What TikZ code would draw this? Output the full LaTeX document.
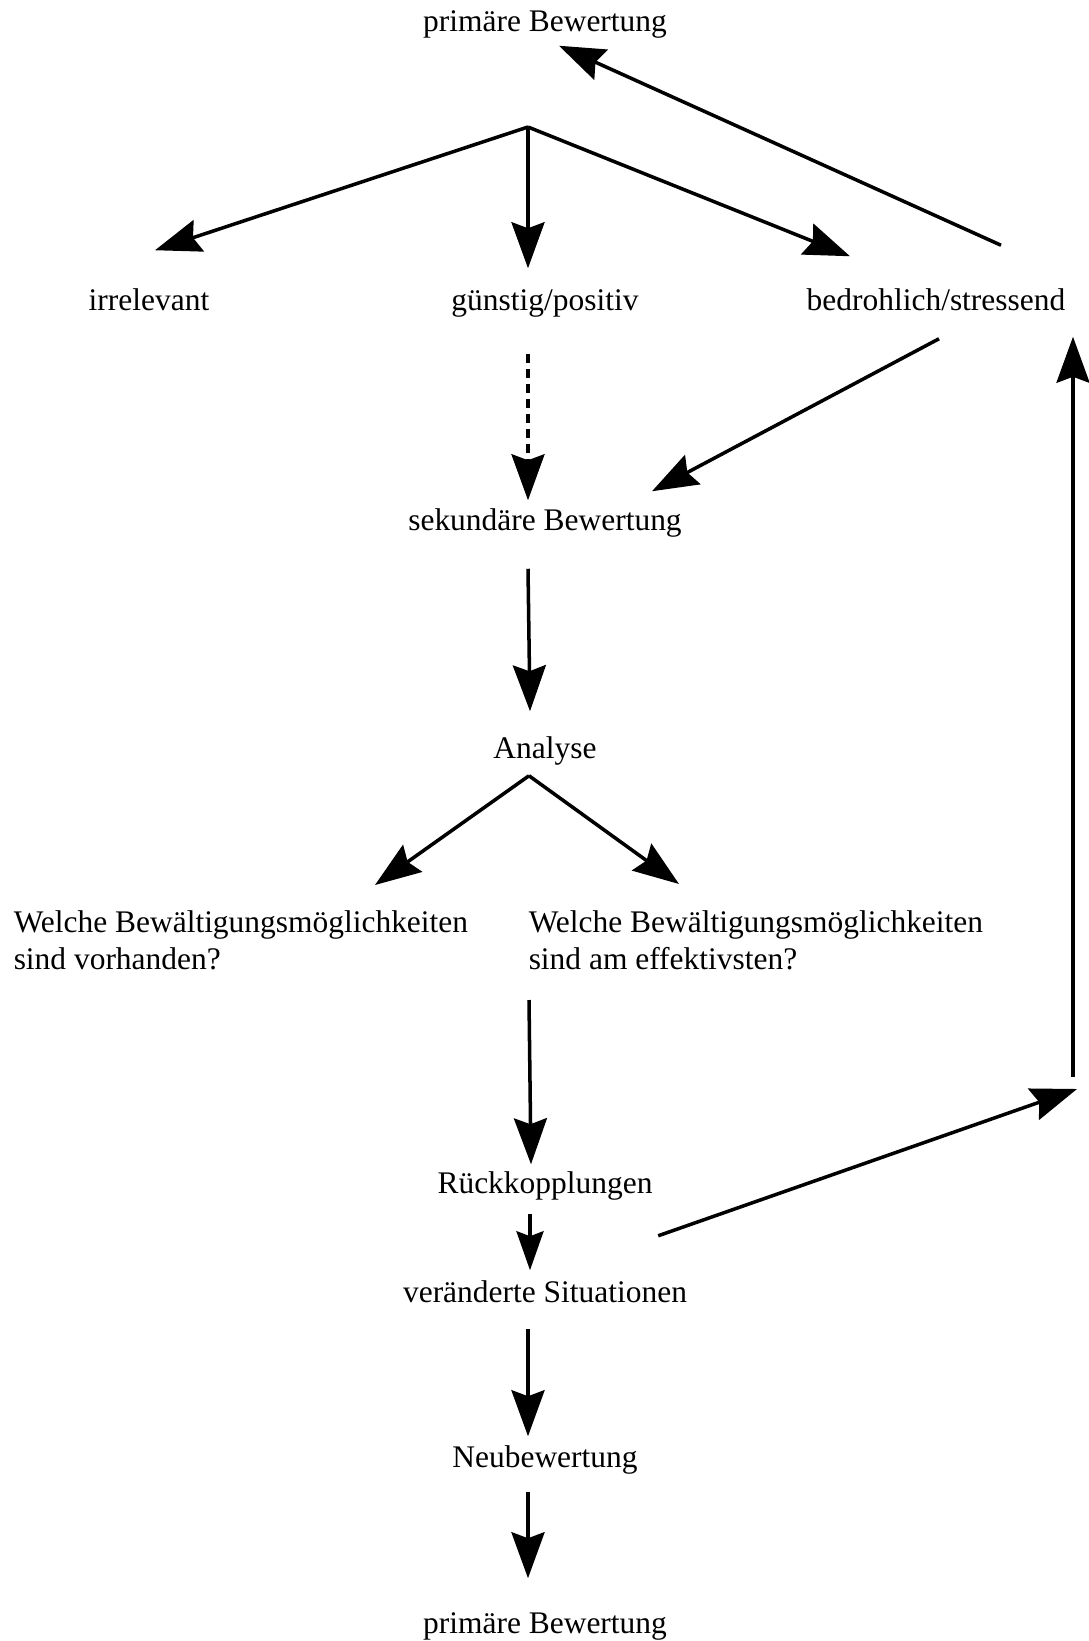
\documentclass[tikz,border=0pt]{standalone}
\usepackage{fontspec}
\setmainfont{Liberation Serif}
\usepackage{tikz}
\usetikzlibrary{calc}
\usetikzlibrary{arrows.meta}
\tikzstyle{every node}=[font=\fontsize{17.9}{21}\selectfont, inner sep=0pt]
\tikzstyle{txt}=[anchor=base, text height=0.45cm, text depth=0.14cm]
\tikzstyle{frage}=[anchor=north west, align=left]

\begin{document}
\begin{tikzpicture}[>={Stealth[length=0.92cm,width=0.66cm,inset=0.12cm]}, line width=2pt]
            \useasboundingbox (0,0) rectangle (21.76,-32.82);
            \def\dx{-0.34}

            \node[txt] (prim1) at (10.9,-0.64) {primäre Bewertung};
            \node[txt] (irr) at (2.98,-6.2) {irrelevant};
            \node[txt] (guen) at (10.9,-6.2) {günstig/positiv};
            \node[txt] (bedr) at (18.72,-6.2) {bedrohlich/stressend};
            \node[txt] (sek) at (10.9,-10.6) {sekundäre Bewertung};
            \node[txt] (ana) at (10.9,-15.16) {Analyse};
            \node[frage] (frage1) at (0.24,-18.18) {Welche Bewältigungsmöglichkeiten\\sind vorhanden?};
            \node[frage] (frage2) at (10.54,-18.18) {Welche Bewältigungsmöglichkeiten\\sind am effektivsten?};
            \node[txt] (rueck) at (10.9,-23.86) {Rückkopplungen};
            \node[txt] (ver) at (10.9,-26.04) {veränderte Situationen};
            \node[txt] (neu) at (10.9,-29.34) {Neubewertung};
            \node[txt] (prim2) at (10.9,-32.66) {primäre Bewertung};

            \coordinate (split1) at (10.56,-2.54) {};
            \coordinate (split2) at ([shift={(-0.32,-0.18)}]ana.south) {};
            \coordinate (turn) at (21.46,-21.54) {};

            \draw [->] (split1) -- ([shift={(0.12,0.71)}]irr.north);
            \draw [->] (split1) -- ([shift={(\dx,0.35)}]guen.north);
            \draw [->] (split1) -- ([shift={(-1.72,0.59)}]bedr.north);
            \draw [->] ([shift={(1.30,0.81)}]bedr.north) -- ([shift={(0.28,-0.10)}]prim1.south);

            \draw [->, dash pattern=on 0.18cm off 0.12cm] ([shift={(\dx,-0.70)}]guen.south) -- ([shift={(\dx,0.11)}]sek.north);
            \draw [->] ([shift={(0.06,-0.40)}]bedr.south) -- ([shift={(2.14,0.29)}]sek.north);
            \draw [->] ([shift={(\dx,-0.60)}]sek.south) -- ([shift={(-0.30,0.45)}]ana.north);

            \draw [->] (split2) -- ([shift={(7.26,0.48)}]frage1.north west);
            \draw [->] (split2) -- ([shift={(3.04,0.50)}]frage2.north west);
            \draw [->] ([shift={(0.04,-1.82)}]frage2.north west) -- ([shift={(-0.28,0.09)}]rueck.north);

            \draw [-{Stealth[length=0.78cm,width=0.54cm,inset=0.1cm]}] ([shift={(-0.30,-0.24)}]rueck.south) -- ([shift={(-0.30,0.15)}]ver.north);
            \draw [->] ([shift={(0.08,-0.68)}]rueck.south east) -- ([shift={(0.08,-0.24)}]turn);
            \draw [->] (turn) -- ($(turn |- bedr.south)+(0,-0.36)$);

            \draw [->, line width=2.3pt] ([shift={(\dx,-0.36)}]ver.south) -- ([shift={(\dx,0.13)}]neu.north);
            \draw [->, line width=2.3pt] ([shift={(\dx,-0.32)}]neu.south) -- ([shift={(\dx,0.61)}]prim2.north);
        \end{tikzpicture}
\end{document}
